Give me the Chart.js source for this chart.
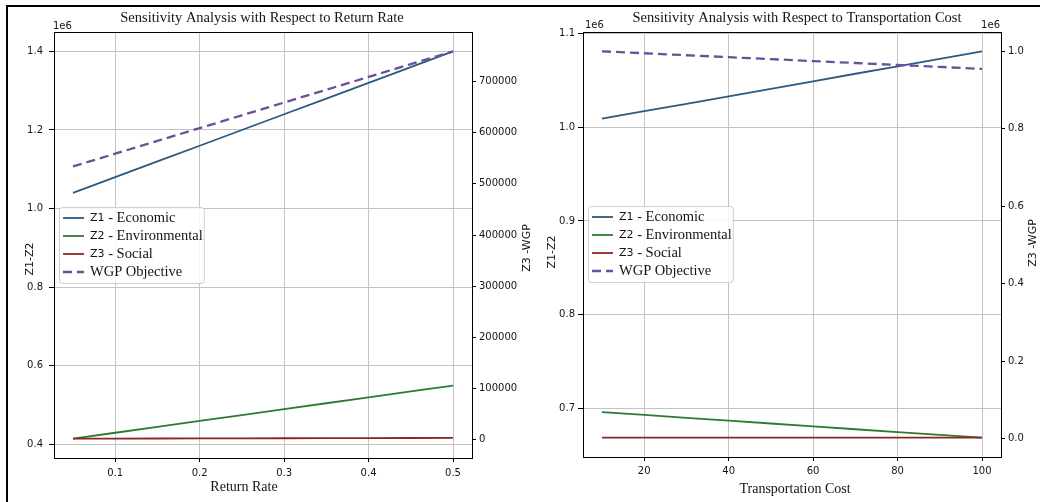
<!DOCTYPE html>
<html>
<head>
<meta charset="utf-8">
<script src="https://cdn.jsdelivr.net/npm/chart.js@4.4.1/dist/chart.umd.min.js"></script>
<style>
  html, body { margin: 0; padding: 0; background: #fff; }
  body { position: relative; width: 1040px; height: 502px; overflow: hidden; }
  #frame { position: absolute; left: 6px; top: 5px; width: 1040px; height: 510px;
           border-top: 2px solid #000; border-left: 2px solid #000; }
  canvas { position: absolute; top: 0; }
  #c1 { left: 0; }
  #c2 { left: 540px; }
</style>
</head>
<body>
<div id="frame"></div>
<canvas id="c1" width="540" height="502"></canvas>
<canvas id="c2" width="500" height="502"></canvas>
<script>
'use strict';

// series names (legend)
const seriesLabels = ['Z1 - Economic', 'Z2 - Environmental', 'Z3 - Social', 'WGP Objective'];

// left panel: return rate
const returnRate = [0.05, 0.10, 0.15, 0.20, 0.25, 0.30, 0.35, 0.40, 0.45, 0.50];
const rrEconomic = [1040000, 1080000, 1120000, 1160000, 1200000, 1240000, 1280000, 1320000, 1360000, 1400000];
const rrEnvironmental = [415000, 430000, 445000, 460000, 475000, 490000, 505000, 520000, 535000, 550000];
const rrSocial = [2000, 2150, 2300, 2450, 2600, 2750, 2900, 3050, 3200, 3300];
const rrWgp = [534000, 559000, 584000, 609000, 634000, 659000, 684000, 709000, 734000, 759000];

// right panel: transportation cost
const transportCost = [10, 20, 30, 40, 50, 60, 70, 80, 90, 100];
const tcEconomic = [1008900, 1016900, 1024800, 1032800, 1040800, 1048800, 1056800, 1064700, 1072700, 1080700];
const tcEnvironmental = [696400, 693400, 690300, 687300, 684300, 681300, 678200, 675200, 672200, 669200];
const tcSocial = [3300, 3280, 3250, 3230, 3200, 3180, 3150, 3130, 3100, 3100];
const tcWgp = [1000000, 995000, 989900, 984900, 979900, 974800, 969800, 964800, 959700, 954700];

const colours = ['#2b5a80', '#2e7b30', '#8a2626', '#6b4f9c'];
const gridCol = '#c4c4c4';
const ink = '#141414';

Chart.defaults.font.family = '"DejaVu Sans", sans-serif';
Chart.defaults.font.size = 10;
Chart.defaults.color = ink;

const pts = (xs, ys) => xs.map((x, i) => ({ x, y: ys[i] }));

// matplotlib-style autoscale: data range plus 5% each side
function limits(...arrs) {
  const all = arrs.flat();
  const lo = Math.min(...all), hi = Math.max(...all);
  const m = (hi - lo) * 0.05;
  return { min: lo - m, max: hi + m };
}

// ticks at multiples of step inside the axis range
const stepTicks = (step) => (s) => {
  const out = [];
  for (let k = Math.ceil(s.min / step - 1e-9); k * step <= s.max + 1e-9; k++) {
    out.push({ value: +(k * step).toPrecision(12) });
  }
  s.ticks = out;
};

const annot = {
  id: 'annot',
  afterDraw(chart, args, o) {
    const { ctx, chartArea: a } = chart;
    ctx.save();
    // top spine
    ctx.strokeStyle = '#000';
    ctx.lineWidth = 1;
    ctx.beginPath();
    ctx.moveTo(a.left, a.top + 0.5);
    ctx.lineTo(a.right, a.top + 0.5);
    ctx.stroke();

    ctx.fillStyle = ink;
    ctx.textAlign = 'center';
    ctx.textBaseline = 'middle';
    ctx.font = '14.5px "Liberation Serif"';
    ctx.fillText(o.title, o.titleX, 18);
    ctx.font = '14px "Liberation Serif"';
    ctx.fillText(o.xTitle.text, o.xTitle.x, o.xTitle.y);

    ctx.font = '11px "DejaVu Sans"';
    o.yTitles.forEach((t) => {
      ctx.save();
      ctx.translate(t.x, t.y);
      ctx.rotate(-Math.PI / 2);
      ctx.fillText(t.text, 0, 0);
      ctx.restore();
    });

    ctx.font = '10px "DejaVu Sans"';
    ctx.textBaseline = 'alphabetic';
    o.offsets.forEach((t) => {
      ctx.textAlign = t.align;
      ctx.fillText('1e6', t.x, t.y);
    });

    // legend
    const sans = '11px "DejaVu Sans"', serif = '14.5px "Liberation Serif"';
    const parts = chart.data.datasets.map((ds) => {
      const m = /^(Z\d)(.*)$/.exec(ds.label);
      return m ? [m[1], m[2]] : ['', ds.label];
    });
    const widths = parts.map(([a1, b1]) => {
      ctx.font = sans; const w1 = ctx.measureText(a1).width;
      ctx.font = serif; return w1 + ctx.measureText(b1).width;
    });
    const L = o.legend;
    const bw = 32 + Math.max(...widths), bh = 76;
    ctx.beginPath();
    if (ctx.roundRect) ctx.roundRect(L.x + 0.5, L.y + 0.5, bw, bh, 3);
    else ctx.rect(L.x + 0.5, L.y + 0.5, bw, bh);
    ctx.fillStyle = 'rgba(255,255,255,0.85)';
    ctx.fill();
    ctx.strokeStyle = '#cfcfcf';
    ctx.lineWidth = 1;
    ctx.stroke();
    chart.data.datasets.forEach((ds, i) => {
      const y = L.y + 11 + i * 18;
      ctx.strokeStyle = ds.borderColor;
      ctx.lineWidth = ds.borderWidth;
      ctx.setLineDash(ds.borderDash || []);
      ctx.beginPath();
      ctx.moveTo(L.x + 4, y);
      ctx.lineTo(L.x + 25, y);
      ctx.stroke();
      ctx.setLineDash([]);
      ctx.fillStyle = ink;
      ctx.textAlign = 'left';
      ctx.textBaseline = 'middle';
      let x = L.x + 31;
      if (parts[i][0]) {
        ctx.font = sans;
        ctx.fillText(parts[i][0], x, y);
        x += ctx.measureText(parts[i][0]).width;
      }
      ctx.font = serif;
      ctx.fillText(parts[i][1], x, y + 0.5);
    });
    ctx.restore();
  },
};

function makeChart(id, c) {
  const line = (i, ys, axis, extra) => Object.assign({
    label: seriesLabels[i], data: pts(c.x, ys), borderColor: colours[i],
    borderWidth: 1.8, yAxisID: axis, order: axis === 'y' ? 1 : 0,
  }, extra);
  const tickGrid = { color: gridCol, lineWidth: 1, tickColor: '#000', tickLength: 5 };
  return new Chart(document.getElementById(id), {
    type: 'line',
    data: {
      datasets: [
        line(0, c.z1, 'y'),
        line(1, c.z2, 'y'),
        line(2, c.z3, 'y2'),
        line(3, c.wgp, 'y2', { borderDash: [9, 5], borderWidth: 2.3 }),
      ],
    },
    options: {
      responsive: false,
      animation: false,
      events: [],
      layout: { padding: { top: 32, left: 0, right: 0, bottom: 0 } },
      elements: { point: { radius: 0 }, line: { tension: 0 } },
      plugins: { legend: { display: false }, tooltip: { enabled: false }, annot: c.annot },
      scales: {
        x: {
          type: 'linear', ...limits(c.x),
          afterBuildTicks: stepTicks(c.xStep),
          afterFit: (s) => { s.height = c.xH; },
          ticks: { padding: c.xPad, maxRotation: 0, autoSkip: false },
          grid: Object.assign({}, tickGrid, { tickLength: 4 }),
          border: { color: '#000', width: 1 },
        },
        y: {
          position: 'left', ...limits(c.z1, c.z2),
          afterBuildTicks: stepTicks(c.yStep),
          afterFit: (s) => { s.width = c.yW; },
          ticks: { padding: c.yPad, autoSkip: false, callback: (v) => (v / 1e6).toFixed(1) },
          grid: tickGrid,
          border: { color: '#000', width: 1 },
        },
        y2: {
          position: 'right', ...limits(c.z3, c.wgp),
          afterBuildTicks: stepTicks(c.y2Step),
          afterFit: (s) => { s.width = c.y2W; },
          ticks: { padding: 3, autoSkip: false, callback: c.y2Fmt },
          grid: { drawOnChartArea: false, tickColor: '#000', tickLength: 4 },
          border: { color: '#000', width: 1 },
        },
      },
    },
    plugins: [annot],
  });
}

makeChart('c1', {
  x: returnRate, z1: rrEconomic, z2: rrEnvironmental, z3: rrSocial, wgp: rrWgp,
  xStep: 0.1, yStep: 200000, y2Step: 100000,
  y2Fmt: (v) => String(Math.round(v)),
  yW: 54, y2W: 68, xH: 44, xPad: 5, yPad: 6,
  annot: {
    title: 'Sensitivity Analysis with Respect to Return Rate', titleX: 262,
    xTitle: { text: 'Return Rate', x: 244, y: 487 },
    yTitles: [{ text: 'Z1-Z2', x: 30, y: 259 }, { text: 'Z3 -WGP', x: 527, y: 248 }],
    offsets: [{ x: 53, y: 29, align: 'left' }],
    legend: { x: 59, y: 207 },
  },
});

makeChart('c2', {
  x: transportCost, z1: tcEconomic, z2: tcEnvironmental, z3: tcSocial, wgp: tcWgp,
  xStep: 20, yStep: 100000, y2Step: 200000,
  y2Fmt: (v) => (v / 1e6).toFixed(1),
  yW: 43, y2W: 39, xH: 45, xPad: 4, yPad: 3,
  annot: {
    title: 'Sensitivity Analysis with Respect to Transportation Cost', titleX: 257,
    xTitle: { text: 'Transportation Cost', x: 255, y: 489 },
    yTitles: [{ text: 'Z1-Z2', x: 12, y: 252 }, { text: 'Z3 -WGP', x: 493, y: 243 }],
    offsets: [{ x: 45, y: 28, align: 'left' }, { x: 460, y: 28, align: 'right' }],
    legend: { x: 48, y: 206 },
  },
});
</script>
</body>
</html>
